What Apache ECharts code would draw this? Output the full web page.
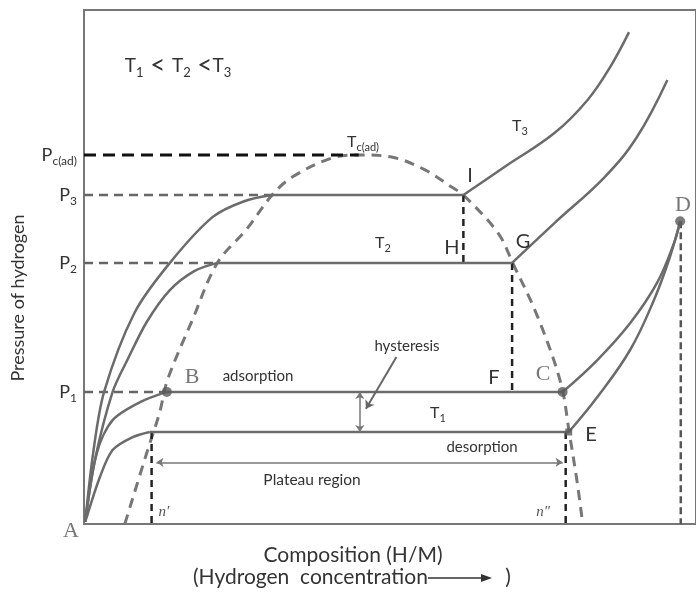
<!DOCTYPE html>
<html>
<head>
<meta charset="utf-8">
<script src="https://cdn.jsdelivr.net/npm/echarts@6/dist/echarts.min.js"></script>
<style>
    html, body { margin: 0; padding: 0; background: #fff; }
    #main { width: 696px; height: 595px; }
</style>
</head>
<body>
<div id="main"></div>
<script type="text/javascript">
    // composition (0-100) / pressure (0-100), arbitrary units
    var levelValues = [25.7, 50.8, 64.0, 71.8];
    var levelLabels = ['{m|P}{s|1}', '{m|P}{s|2}', '{m|P}{s|3}', '{m|P}{s|c(ad)}'];
    var desLevel = 17.9;
    var arrowLevel = 12;

    var dome = [[6.7,0],[10.3,13.8],[12.4,21.6],[13.7,28.0],[17.8,39.7],[21.9,50.8],[26.6,57.2],[30.9,64.0],
        [34.2,67.5],[40.7,71.2],[45.1,71.8],[50.5,71.4],[56.0,68.9],[60.3,65.6],[62.3,64.0],[68.0,56.6],
        [70.4,50.8],[74.5,40.3],[78.3,27.4],[79.7,17.7],[81.0,8.0],[81.9,0]];

    var t3Left  = [[0.2,0.4],[1.5,13.8],[3.3,25.7],[8.3,41.1],[14.1,50.8],[21.1,59.7],[26.3,62.8],[30.9,64.0]];
    var t3Right = [[62.3,64.0],[69.1,69.5],[77.3,76.1],[82.7,82.5],[86.4,88.9],[89.5,95.7]];
    var t2Left  = [[0.2,0.4],[1.8,12.5],[4.7,25.7],[7.2,32.1],[10.3,39.3],[14.1,45.5],[18.1,49.2],[21.9,50.8]];
    var t2Right = [[70.3,50.8],[77.3,58.6],[85.5,67.5],[90.8,75.3],[95.8,86.4]];
    var t1Ads   = [[0.2,0.4],[2.1,13.8],[4.7,20.2],[9.2,23.7],[13.6,25.7]];
    var t1Des   = [[0.2,0.4],[2.6,9.1],[4.7,14.4],[8.0,16.9],[10.8,17.9]];
    var cToD    = [[78.6,25.7],[84.3,31.9],[89.7,39.1],[94.1,46.9],[96.9,54.7],[97.9,58.9]];
    var eToD    = [[79.6,17.9],[84.3,24.7],[89.7,33.9],[93.6,43.6],[96.2,51.9],[97.9,58.9]];

    var plateaus = [[[30.9,64.0],[62.3,64.0]], [[21.9,50.8],[70.3,50.8]], [[13.6,25.7],[78.6,25.7]], [[10.8,17.9],[79.6,17.9]]];
    var greyDashes = [[[0,64.0],[30.9,64.0]], [[0,50.8],[21.9,50.8]], [[0,25.7],[13.6,25.7]]];
    var blackDashes = [[[62.3,64.0],[62.3,50.8]], [[70.3,50.8],[70.3,25.7]], [[11.1,17.9],[11.1,0]],
        [[79.1,17.9],[79.1,0]]];
    var dDash = [[98.0,58.9],[98.0,0]];
    var pcDash = [[0,71.8],[45.1,71.8]];
    var points = [[13.6,25.7],[78.6,25.7],[97.9,58.9]];
    var pointE = [[79.6,17.9]];

    var grey = '#6b6b6b';
    var font = 'Lato, "Open Sans", sans-serif';
    var serif = '"Liberation Serif", "DejaVu Serif", serif';

    function curve(data, smooth) {
        return {
            type: 'line', data: data, showSymbol: false, silent: true,
            smooth: smooth || false,
            lineStyle: { color: grey, width: 2.5 }, z: 3
        };
    }
    function dashed(data, color, width, dash) {
        return {
            type: 'line', data: data, showSymbol: false, silent: true,
            lineStyle: { color: color, width: width, type: dash }, z: 2
        };
    }

    var series = [];
    series.push({
        type: 'line', data: dome, showSymbol: false, silent: true, smooth: 0.35,
        lineStyle: { color: '#777', width: 3, type: [10, 7] }, z: 2
    });
    [t3Left, t2Left, t1Ads, t1Des].forEach(function (d) { series.push(curve(d, 0.3)); });
    [t3Right, t2Right, cToD, eToD].forEach(function (d) { series.push(curve(d, 0.4)); });
    plateaus.forEach(function (d) { series.push(curve(d)); });
    greyDashes.forEach(function (d) { series.push(dashed(d, '#666', 2.5, [9, 6])); });
    blackDashes.forEach(function (d) { series.push(dashed(d, '#222', 2.5, [7, 5])); });
    series.push(dashed(dDash, '#555', 2.5, [7, 4]));
    series.push(dashed(pcDash, '#111', 3, [12, 7]));
    series.push({
        type: 'scatter', data: points, symbolSize: 10, silent: true,
        itemStyle: { color: '#5a5a5a' }, z: 5
    });
    series.push({
        type: 'scatter', data: pointE, symbol: 'rect', symbolSize: 7, silent: true,
        itemStyle: { color: '#5a5a5a' }, z: 5
    });
    series.push({
        type: 'lines', coordinateSystem: 'cartesian2d', silent: true, z: 4,
        symbol: ['arrow', 'arrow'], symbolSize: 7,
        lineStyle: { color: '#777', width: 1.5, opacity: 1 },
        data: [
            { coords: [[11.9, arrowLevel], [78.6, arrowLevel]] },
            { coords: [[45.3, 25.7], [45.3, desLevel]] }
        ]
    });
    series.push({
        type: 'lines', coordinateSystem: 'cartesian2d', silent: true, z: 4,
        symbol: ['none', 'arrow'], symbolSize: 8,
        lineStyle: { color: '#666', width: 2, opacity: 1 },
        data: [{ coords: [[51.3, 32.5], [46.3, 22.4]] }]
    });

    function label(text, x, y, size, extra) {
        var st = { text: text, fill: '#333', font: size + 'px ' + font, align: 'center', verticalAlign: 'middle' };
        for (var k in extra) st[k] = extra[k];
        return { type: 'text', x: x, y: y, silent: true, z: 10, style: st };
    }
    var subRich = {
        m: { fontSize: 16, fontFamily: font, color: '#333', lineHeight: 22 },
        s: { fontSize: 11, fontFamily: font, color: '#333', verticalAlign: 'bottom', lineHeight: 13 }
    };
    var axisRich = {
        m: { fontSize: 18, fontFamily: font, color: '#333', lineHeight: 24 },
        s: { fontSize: 12, fontFamily: font, color: '#333', verticalAlign: 'bottom', lineHeight: 14 }
    };
    var titleRich = {
        m: { fontSize: 19, fontFamily: font, color: '#333', lineHeight: 26 },
        s: { fontSize: 13, fontFamily: font, color: '#333', verticalAlign: 'bottom', lineHeight: 15 },
        l: { fontSize: 26, fontFamily: font, color: '#333', lineHeight: 26 }
    };

    var myChart = echarts.init(document.getElementById('main'));
    var option = {
        animation: false,
        backgroundColor: '#fff',
        grid: { show: true, left: 84, right: -3, top: 10, bottom: 71, borderColor: '#777', borderWidth: 2 },
        xAxis: {
            type: 'value', min: 0, max: 100.5,
            axisLine: { show: false }, axisTick: { show: false },
            axisLabel: { show: false }, splitLine: { show: false }
        },
        yAxis: {
            type: 'value', min: 0, max: 100,
            axisLine: { show: false }, axisTick: { show: false }, splitLine: { show: false },
            axisLabel: {
                customValues: levelValues,
                margin: 7,
                formatter: function (v) { return levelLabels[levelValues.indexOf(v)]; },
                rich: axisRich
            }
        },
        graphic: [
            label('{m|T}{s|1}{l| < }{m|T}{s|2}{l| <}{m|T}{s|3}', 178, 66, 19, { rich: titleRich }),
            label('{m|T}{s|c(ad)}', 363, 142, 16, { rich: subRich }),
            label('{m|T}{s|3}', 520, 126, 16, { rich: subRich }),
            label('{m|T}{s|2}', 383, 243, 16, { rich: subRich }),
            label('{m|T}{s|1}', 438, 413, 16, { rich: subRich }),
            label('I', 470, 176, 20),
            label('H', 452, 248, 20),
            label('G', 523, 242, 20),
            label('F', 494, 378, 20),
            label('E', 591, 435, 20),
            label('C', 543, 374, 22, { font: '22px ' + serif, fill: '#777' }),
            label('D', 683, 205, 22, { font: '22px ' + serif, fill: '#777' }),
            label('B', 192, 377, 22, { font: '22px ' + serif, fill: '#777' }),
            label('A', 71, 531, 22, { font: '22px ' + serif, fill: '#777' }),
            label("n\u2032", 164, 512, 15, { font: 'italic 15px ' + serif, fill: '#555' }),
            label("n\u2033", 543, 512, 15, { font: 'italic 15px ' + serif, fill: '#555' }),
            label('adsorption', 258, 376, 15),
            label('desorption', 482, 447, 15),
            label('hysteresis', 407, 346, 15),
            label('Plateau region', 312, 480, 15.5),
            label('Pressure of hydrogen', 18, 298, 18),
            label('Composition (H/M)', 353, 555, 21),
            label('(Hydrogen  concentration', 193, 577, 21, { align: 'left' }),
            { type: 'line', silent: true, shape: { x1: 428, y1: 578, x2: 484, y2: 578 }, style: { stroke: '#333', lineWidth: 1.5 } },
            { type: 'polygon', silent: true, shape: { points: [[481, 574], [492, 578], [481, 582]] }, style: { fill: '#333' } },
            label(')', 508, 577, 21)
        ],
        series: series
    };
    option.graphic[20].rotation = Math.PI / 2;
    myChart.setOption(option);
</script>
</body>
</html>
